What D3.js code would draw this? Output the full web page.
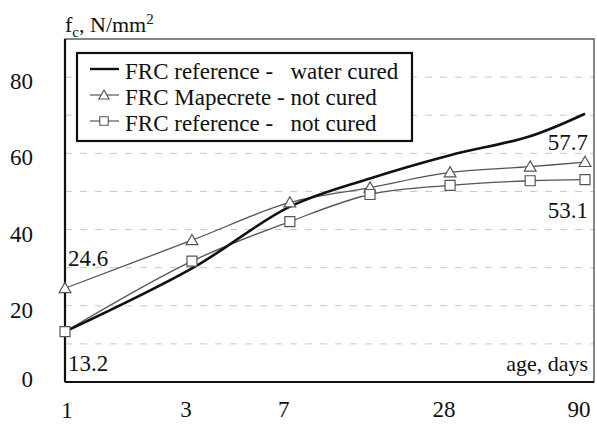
<!DOCTYPE html>
<html>
<head>
<meta charset="utf-8">
<script src="https://cdn.jsdelivr.net/npm/d3@7"></script>
<style>
  body { margin: 0; background: #fff; }
  svg text { font-family: "Liberation Serif", "DejaVu Serif", "Noto Serif", serif; fill: #111; }
</style>
</head>
<body>
<svg id="chart" width="597" height="424"></svg>
<script>
// days of measurement (log axis)
var days = [1, 3, 7, 14, 28, 56, 90];
var tickDays = [1, 3, 7, 28, 90];
var yTicks = [0, 20, 40, 60, 80];
var gridVals = [10, 20, 30, 40, 50, 60, 70, 80];

// compressive strength, N/mm2
var waterCured = [13.2, 29.8, 46.0, 53.4, 59.5, 64.5, 70.4];
var mapecrete = [24.6, 37.2, 47.1, 51.0, 55.0, 56.5, 57.7];
var refNotCured = [13.2, 31.7, 42.1, 49.2, 51.6, 52.8, 53.1];

var seriesNames = ["FRC reference -   water cured", "FRC Mapecrete - not cured", "FRC reference -   not cured"];

var margin = {top: 39, right: 3, bottom: 42, left: 65};
var W = 597 - margin.left - margin.right,
    H = 424 - margin.top - margin.bottom;
var fs = "23px";

var svg = d3.select("#chart");
var g = svg.append("g").attr("transform", "translate(" + margin.left + "," + margin.top + ")");

var x = d3.scaleLog().domain([1, 90]).range([0, W - 9]);
var y = d3.scaleLinear().domain([0, 90]).range([H, 0]);

//Gridlines
g.selectAll("line.grid")
  .data(gridVals)
  .enter()
  .append("line")
    .attr("class", "grid")
    .attr("x1", 0).attr("x2", W)
    .attr("y1", function(d) { return y(d); })
    .attr("y2", function(d) { return y(d); })
    .attr("stroke", "#c8c8c8")
    .attr("stroke-width", 1)
    .attr("stroke-dasharray", "7,8");

//Frame
g.append("rect")
  .attr("width", W).attr("height", H)
  .attr("fill", "none")
  .attr("stroke", "#444")
  .attr("stroke-width", 1.3);
g.append("line").attr("x1", 0).attr("x2", 0).attr("y1", 0).attr("y2", H)
  .attr("stroke", "#111").attr("stroke-width", 2.2);
g.append("line").attr("x1", 0).attr("x2", W).attr("y1", H).attr("y2", H)
  .attr("stroke", "#111").attr("stroke-width", 2.2);

//Y tick labels
g.selectAll("text.ytick")
  .data(yTicks)
  .enter()
  .append("text")
    .attr("class", "ytick")
    .attr("x", -32)
    .attr("y", function(d) { return y(d) + (d === 0 ? -3 : 4); })
    .attr("dy", "0.35em")
    .attr("text-anchor", "end")
    .style("font-size", fs)
    .text(function(d) { return d; });

//X tick labels
g.selectAll("text.xtick")
  .data(tickDays)
  .enter()
  .append("text")
    .attr("class", "xtick")
    .attr("x", function(d) { return x(d) + (d === 1 ? 2 : -6); })
    .attr("y", function(d) { return H + (d === 1 ? 36 : 35); })
    .attr("text-anchor", "middle")
    .style("font-size", fs)
    .text(function(d) { return d; });

//Axis titles
var yt = svg.append("text")
  .attr("x", margin.left)
  .attr("y", 32)
  .style("font-size", "22px");
yt.append("tspan").text("f");
yt.append("tspan").attr("dy", 5).style("font-size", "15px").text("c");
yt.append("tspan").attr("dy", -5).text(", N/mm");
yt.append("tspan").attr("dy", -8).style("font-size", "15px").text("2");

g.append("text")
  .attr("x", W - 6)
  .attr("y", y(0) - 11)
  .attr("text-anchor", "end")
  .style("font-size", "22px")
  .text("age, days");

//Lines
var lineGen = d3.line()
  .x(function(d, i) { return x(days[i]); })
  .y(function(d) { return y(d); })
  .curve(d3.curveCatmullRom.alpha(0.5));

g.append("path")
  .attr("d", lineGen(mapecrete))
  .attr("fill", "none").attr("stroke", "#555").attr("stroke-width", 1.3);
g.append("path")
  .attr("d", lineGen(refNotCured))
  .attr("fill", "none").attr("stroke", "#555").attr("stroke-width", 1.3);
g.append("path")
  .attr("d", lineGen(waterCured))
  .attr("fill", "none").attr("stroke", "#111").attr("stroke-width", 2.6);

var triSym = d3.symbol().type(d3.symbolTriangle).size(60);
var sqSym = d3.symbol().type(d3.symbolSquare).size(100);

g.selectAll("path.tri")
  .data(mapecrete)
  .enter()
  .append("path")
    .attr("class", "tri")
    .attr("d", triSym)
    .attr("transform", function(d, i) { return "translate(" + x(days[i]) + "," + (y(d) + 1) + ")"; })
    .attr("fill", "#fff").attr("stroke", "#555").attr("stroke-width", 1.2);

g.selectAll("path.sq")
  .data(refNotCured)
  .enter()
  .append("path")
    .attr("class", "sq")
    .attr("d", sqSym)
    .attr("transform", function(d, i) { return "translate(" + x(days[i]) + "," + y(d) + ")"; })
    .attr("fill", "#fff").attr("stroke", "#555").attr("stroke-width", 1.2);

//Value labels
var last = days.length - 1;
g.append("text").attr("x", x(1) + 3).attr("y", y(mapecrete[0]) - 22)
  .style("font-size", fs).text(mapecrete[0]);
g.append("text").attr("x", x(1) + 3).attr("y", y(refNotCured[0]) + 39)
  .style("font-size", fs).text(refNotCured[0]);
g.append("text").attr("x", x(90) + 3).attr("y", y(mapecrete[last]) - 12)
  .attr("text-anchor", "end").style("font-size", fs).text(mapecrete[last]);
g.append("text").attr("x", x(90) + 3).attr("y", y(refNotCured[last]) + 38)
  .attr("text-anchor", "end").style("font-size", fs).text(refNotCured[last]);

//Legend
var leg = svg.append("g").attr("transform", "translate(77,53)");
leg.append("rect")
  .attr("width", 335).attr("height", 88)
  .attr("fill", "#fff").attr("stroke", "#111").attr("stroke-width", 2.2);

var legRows = leg.selectAll("g.row")
  .data(seriesNames)
  .enter()
  .append("g")
    .attr("class", "row")
    .attr("transform", function(d, i) { return "translate(0," + (18 + i * 26) + ")"; });

legRows.append("line")
  .attr("x1", 13).attr("x2", 42)
  .attr("y1", -2).attr("y2", -2)
  .attr("stroke", function(d, i) { return i === 0 ? "#111" : "#555"; })
  .attr("stroke-width", function(d, i) { return i === 0 ? 2.4 : 1.2; });

legRows.append("text")
  .attr("x", 48)
  .attr("dy", "0.35em")
  .style("font-size", fs)
  .style("white-space", "pre")
  .text(function(d) { return d; });

leg.select("g.row:nth-child(3)").append("path")
  .attr("d", d3.symbol().type(d3.symbolTriangle).size(45))
  .attr("transform", "translate(27,-1)")
  .attr("fill", "#fff").attr("stroke", "#555").attr("stroke-width", 1.1);
leg.select("g.row:nth-child(4)").append("path")
  .attr("d", d3.symbol().type(d3.symbolSquare).size(70))
  .attr("transform", "translate(27,-2)")
  .attr("fill", "#fff").attr("stroke", "#555").attr("stroke-width", 1.1);
</script>
</body>
</html>
